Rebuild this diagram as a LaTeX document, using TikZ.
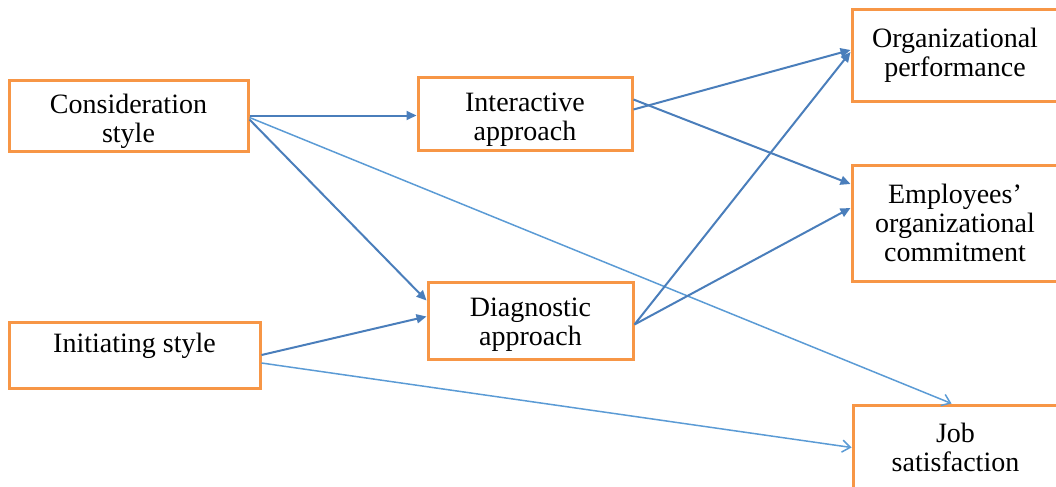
\documentclass[tikz,border=0pt]{standalone}
\usepackage{fontspec}
\setmainfont{Liberation Serif}
\usepackage{tikz}
\usetikzlibrary{positioning,arrows.meta,calc}

\definecolor{boxorange}{HTML}{F79646}
\definecolor{darkline}{HTML}{4A7EBB}
\definecolor{lightline}{HTML}{5B9BD5}

\begin{document}
\begin{tikzpicture}[
  x=0.5pt, y=-0.5pt,
  vbox/.style={draw=boxorange, line width=1.5pt, fill=white, align=center,
    font=\fontsize{14pt}{14.5pt}\selectfont, inner xsep=2pt, inner ysep=0.5pt},
  strong/.style={draw=darkline, line width=1pt, -{Triangle[length=5pt,width=4.5pt]}},
  weak/.style={draw=lightline, line width=0.75pt, -{Straight Barb[length=4pt,width=6pt]}}
]
\useasboundingbox (0,0) rectangle (1056,487);

% leadership styles
\node[vbox, minimum width=119.5pt, minimum height=35.5pt, text height=29.6pt] (cons) at (128.5,115.5) {Consideration\\style};
\node[vbox, minimum width=125.5pt, minimum height=33pt, text depth=12pt] (init) at (134.5,355) {Initiating style};

% control approaches
\node[vbox, minimum width=107pt, minimum height=36.5pt, text height=29.6pt] (inter) at (525,113.5) {Interactive\\approach};
\node[vbox, minimum width=102.5pt, minimum height=38.5pt, text height=27.6pt] (diag) at (530.5,320.5) {Diagnostic\\approach};

% outcomes
\node[vbox, minimum width=103pt, minimum height=46pt] (perf) at (955,55) {Organizational\\performance};
\node[vbox, minimum width=103pt, minimum height=58pt] (comm) at (955,223) {Employees'\\organizational\\commitment};
\node[vbox, minimum width=102.5pt, minimum height=42.5pt] (job) at (955.5,447.5) {Job\\satisfaction};

% paths from the styles
\draw[strong] (cons.east) -- (cons.east -| inter.west);
\draw[strong] ([yshift=-2pt]cons.east) -- ([yshift=10pt]diag.west);
\draw[weak] ([yshift=-1pt]cons.east) -- ([xshift=-2pt]job.north);
\draw[strong] (init.east) -- ([yshift=2pt]diag.west);
\draw[weak] ([yshift=-4pt]init.east) -- (job.west);

% paths from the approaches
\draw[strong] ([yshift=2pt]inter.east) -- ([yshift=2.5pt]perf.west);
\draw[strong] ([yshift=7pt]inter.east) -- ([yshift=19.5pt]comm.west);
\draw[strong] ([yshift=-2pt]diag.east) -- ([yshift=1.5pt]perf.west);
\draw[strong] ([yshift=-2pt]diag.east) -- ([yshift=7.5pt]comm.west);

\end{tikzpicture}
\end{document}
